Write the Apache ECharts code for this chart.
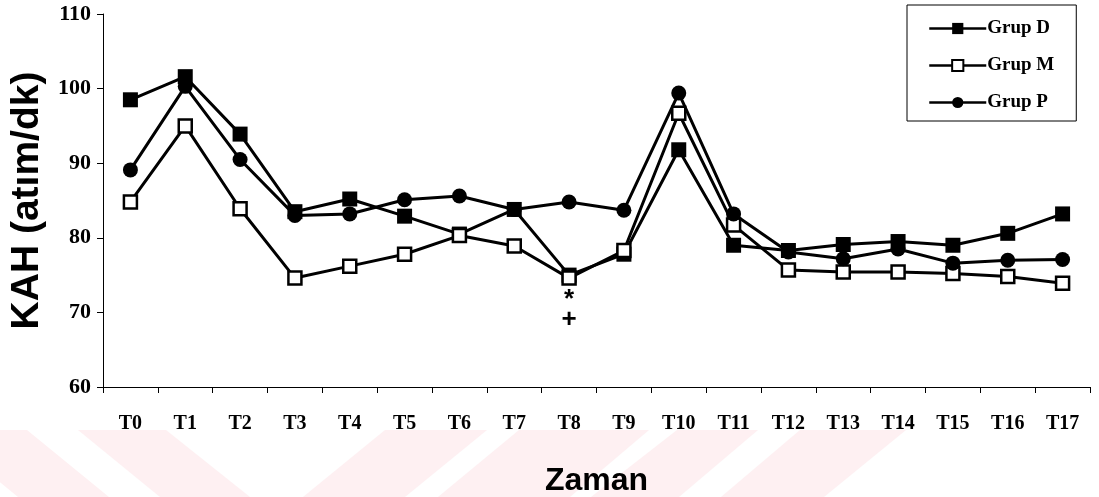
<!DOCTYPE html>
<html>
<head>
<meta charset="utf-8">
<script src="https://cdn.jsdelivr.net/npm/echarts@6/dist/echarts.min.js"></script>
<style>
html,body{margin:0;padding:0;background:#fff;}
#c{width:1099px;height:497px;}
</style>
</head>
<body>
<div id="c"></div>
<script>
var categories = ['T0','T1','T2','T3','T4','T5','T6','T7','T8','T9','T10','T11','T12','T13','T14','T15','T16','T17'];
var grupD = [98.5, 101.6, 93.9, 83.5, 85.2, 82.9, 80.5, 83.8, 75.0, 77.8, 91.8, 79.0, 78.3, 79.1, 79.5, 79.0, 80.6, 83.2];
var grupM = [84.8, 95.0, 83.9, 74.6, 76.2, 77.8, 80.3, 78.9, 74.6, 78.3, 96.7, 81.7, 75.7, 75.4, 75.4, 75.2, 74.8, 73.9];
var grupP = [89.1, 100.3, 90.5, 83.0, 83.2, 85.1, 85.6, 83.8, 84.8, 83.7, 99.4, 83.2, 78.1, 77.2, 78.5, 76.6, 77.0, 77.1];
var seriesNames = ['Grup D','Grup M','Grup P'];
var yTicks = [60, 70, 80, 90, 100, 110];
var annotIndex = 8;
var annotText = '*\n+';

var chart = echarts.init(document.getElementById('c'), null, {renderer:'canvas'});

var pink = '#fef0f2';
function stripe(pts){
  return {type:'polygon', silent:true, z:-10, shape:{points:pts}, style:{fill:pink}};
}

var mData = grupM.map(function(v,i){
  if (i === annotIndex) {
    return {value:v, label:{show:true, position:'bottom', distance:4, formatter:annotText,
      fontFamily:'Liberation Sans', fontWeight:'bold', fontSize:26, lineHeight:20, color:'#000'}};
  }
  return v;
});

var serif = 'Liberation Serif';
var option = {
  animation:false,
  backgroundColor:'#fff',
  graphic:[
    stripe([[-64,430],[27,430],[109,497],[18,497]]),
    stripe([[78,430],[166,430],[250,497],[160,497]]),
    stripe([[385,430],[487,430],[405,497],[303,497]]),
    stripe([[519,430],[649,430],[570,497],[438,497]]),
    stripe([[677,430],[758,430],[679,497],[591,497]]),
    stripe([[800,430],[906,430],[824,497],[721,497]])
  ],
  grid:{left:103, top:14, right:9, bottom:110, containLabel:false, outerBoundsMode:'none'},
  legend:{
    data:seriesNames,
    orient:'vertical',
    left:907, top:5,
    itemWidth:57, itemHeight:14, itemGap:18,
    padding:[14,22,9,21],
    borderColor:'#000', borderWidth:1,
    lineStyle:{width:2.5, color:'#000'},
    textStyle:{fontFamily:serif, fontWeight:'bold', fontSize:19, color:'#000', padding:[0,0,0,-4]}
  },
  xAxis:{
    type:'category', data:categories, boundaryGap:true,
    axisLine:{lineStyle:{color:'#000', width:1}},
    axisTick:{show:true, alignWithLabel:false, length:6, lineStyle:{color:'#000'}},
    axisLabel:{fontFamily:serif, fontWeight:'bold', fontSize:20, color:'#000', margin:27, interval:0},
    name:'Zaman', nameLocation:'middle', nameGap:78,
    nameTextStyle:{fontFamily:'Liberation Sans', fontWeight:'bold', fontSize:32, color:'#000'}
  },
  yAxis:{
    type:'value', min:60, max:110, interval:10,
    axisLine:{show:true, lineStyle:{color:'#000', width:1}},
    axisTick:{show:true, length:6, lineStyle:{color:'#000'}},
    splitLine:{show:false},
    axisLabel:{fontFamily:serif, fontWeight:'bold', fontSize:22, color:'#000', margin:12,
      formatter:function(v){ return yTicks.indexOf(v) >= 0 ? String(v) : ''; }},
    name:'KAH (atım/dk)', nameLocation:'middle', nameGap:55,
    nameTextStyle:{fontFamily:'Liberation Sans', fontWeight:'bold', fontSize:39, color:'#000'}
  },
  series:[
    {name:seriesNames[0], type:'line', data:grupD, symbol:'rect', symbolSize:15,
     lineStyle:{color:'#000', width:3}, itemStyle:{color:'#000', borderColor:'#000', borderWidth:0}},
    {name:seriesNames[1], type:'line', data:mData, symbol:'rect', symbolSize:13,
     lineStyle:{color:'#000', width:3}, itemStyle:{color:'#fff', borderColor:'#000', borderWidth:2.5}},
    {name:seriesNames[2], type:'line', data:grupP, symbol:'circle', symbolSize:15,
     lineStyle:{color:'#000', width:3}, itemStyle:{color:'#000', borderColor:'#000', borderWidth:0}}
  ]
};
chart.setOption(option);
</script>
</body>
</html>
